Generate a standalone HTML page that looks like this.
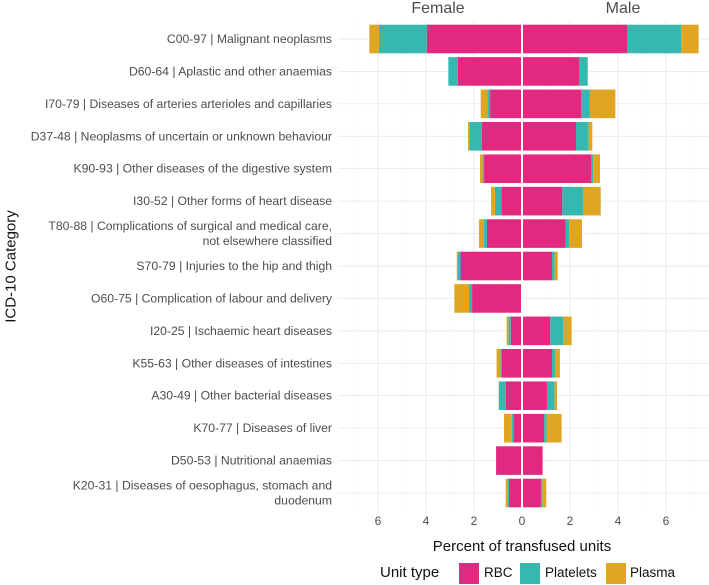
<!DOCTYPE html>
<html><head><meta charset="utf-8"><style>
body{margin:0;background:#fff;}
svg{display:block;font-family:"Liberation Sans",Arial,sans-serif;}
</style></head><body>
<svg id="chart" width="709" height="583"></svg>
<script>
const categories=["C00-97 | Malignant neoplasms","D60-64 | Aplastic and other anaemias","I70-79 | Diseases of arteries arterioles and capillaries","D37-48 | Neoplasms of uncertain or unknown behaviour","K90-93 | Other diseases of the digestive system","I30-52 | Other forms of heart disease","T80-88 | Complications of surgical and medical care,|not elsewhere classified","S70-79 | Injuries to the hip and thigh","O60-75 | Complication of labour and delivery","I20-25 | Ischaemic heart diseases","K55-63 | Other diseases of intestines","A30-49 | Other bacterial diseases","K70-77 | Diseases of liver","D50-53 | Nutritional anaemias","K20-31 | Diseases of oesophagus, stomach and|duodenum"];
const femaleRBC=[3.97,2.67,1.33,1.68,1.58,0.86,1.46,2.56,2.08,0.47,0.85,0.68,0.35,1.08,0.54];
const femalePlatelets=[1.99,0.40,0.11,0.51,0.06,0.27,0.12,0.11,0.13,0.10,0.05,0.28,0.08,0,0.06];
const femalePlasma=[0.40,0,0.28,0.06,0.11,0.16,0.21,0.05,0.61,0.07,0.16,0.01,0.32,0,0.08];
const maleRBC=[4.39,2.39,2.46,2.25,2.89,1.68,1.81,1.25,0,1.18,1.25,1.04,0.92,0.86,0.79];
const malePlatelets=[2.25,0.35,0.37,0.53,0.08,0.86,0.15,0.11,0,0.53,0.14,0.32,0.11,0,0.06];
const malePlasma=[0.72,0,1.06,0.15,0.28,0.74,0.54,0.13,0,0.36,0.19,0.10,0.62,0,0.16];
const tickValues=[-6,-4,-2,0,2,4,6];
const tickLabels=["6","4","2","0","2","4","6"];
const colors={RBC:"#E3297F",Platelets:"#36B8AF",Plasma:"#E0A622"};
const NS="http://www.w3.org/2000/svg";
const svg=document.getElementById('chart');
const x0=522,ppu=24,panelL=338,panelR=709,y1=39,dy=32.43,bh=28.6;
const xs=v=>x0+v*ppu;
const ys=i=>y1+i*dy;
function el(t,a,p){const e=document.createElementNS(NS,t);for(const k in a)e.setAttribute(k,a[k]);(p||svg).appendChild(e);return e;}
for(let v=-7;v<=7;v++){const l=el('line',{x1:xs(v),x2:xs(v),y1:20,y2:510,stroke:v%2? "#f3f3f3":"#e9e9e9","stroke-width":v%2?0.6:0.9});

}
categories.forEach((c,i)=>{const l=el('line',{x1:panelL,x2:panelR,y1:ys(i),y2:ys(i),stroke:"#e9e9e9","stroke-width":0.9});

});
const series=[["RBC",femaleRBC,maleRBC],["Platelets",femalePlatelets,malePlatelets],["Plasma",femalePlasma,malePlasma]];
categories.forEach((c,i)=>{let fc=0,mc=0;
series.forEach(([name,f,m])=>{
 if(f[i]>0){const r=el('rect',{x:xs(-(fc+f[i])),y:ys(i)-bh/2,width:f[i]*ppu,height:bh,fill:colors[name]});
 
 }
 fc+=f[i];
 if(m[i]>0){const r=el('rect',{x:xs(mc),y:ys(i)-bh/2,width:m[i]*ppu,height:bh,fill:colors[name]});
 
 }
 mc+=m[i];
});
const parts=c.split('|'),lab=el('text',{x:332,"text-anchor":"end","font-size":12.2,fill:"#4d4d4d"});


const lines=[parts[0]+"|"+parts[1]].concat(parts.slice(2));
const n=lines.length;
lines.forEach((t,k)=>{const ts=el('tspan',{x:332,y:ys(i)+4+(k-(n-1)/2)*15},lab);ts.textContent=t;});
});
const zl=el('line',{x1:x0,x2:x0,y1:20,y2:510,stroke:"#fff","stroke-width":2});


tickValues.forEach((v,i)=>{const t=el('text',{x:xs(v),y:525,"text-anchor":"middle","font-size":12,fill:"#4d4d4d"});t.textContent=tickLabels[i];

});
</script>
<div style="position:absolute;left:0;top:0;width:709px;height:583px;pointer-events:none;font-family:'Liberation Sans',Arial,sans-serif;">
<div style="position:absolute;left:398px;top:0px;width:80px;text-align:center;font-size:16px;line-height:18px;color:#4d4d4d">Female</div>
<div style="position:absolute;left:583px;top:0px;width:80px;text-align:center;font-size:16px;line-height:18px;color:#4d4d4d">Male</div>
<div style="position:absolute;left:372px;top:538px;width:300px;text-align:center;font-size:15px;color:#111">Percent of transfused units</div>
<div style="position:absolute;left:-64px;top:258px;width:150px;text-align:center;font-size:15px;color:#111;transform:rotate(-90deg)">ICD-10 Category</div>
<div style="position:absolute;left:380px;top:563px;height:22px;font-size:15px;color:#111;">
<span style="position:absolute;left:0;top:1px;white-space:nowrap">Unit type</span>
<span style="position:absolute;left:79px;top:0;width:20px;height:21px;background:#E3297F"></span>
<span style="position:absolute;left:104px;top:2px;font-size:13.5px">RBC</span>
<span style="position:absolute;left:140px;top:0;width:20px;height:21px;background:#36B8AF"></span>
<span style="position:absolute;left:165px;top:2px;font-size:13.5px">Platelets</span>
<span style="position:absolute;left:226px;top:0;width:20px;height:21px;background:#E0A622"></span>
<span style="position:absolute;left:250px;top:2px;font-size:13.5px">Plasma</span>
</div>
</div>
</body></html>
